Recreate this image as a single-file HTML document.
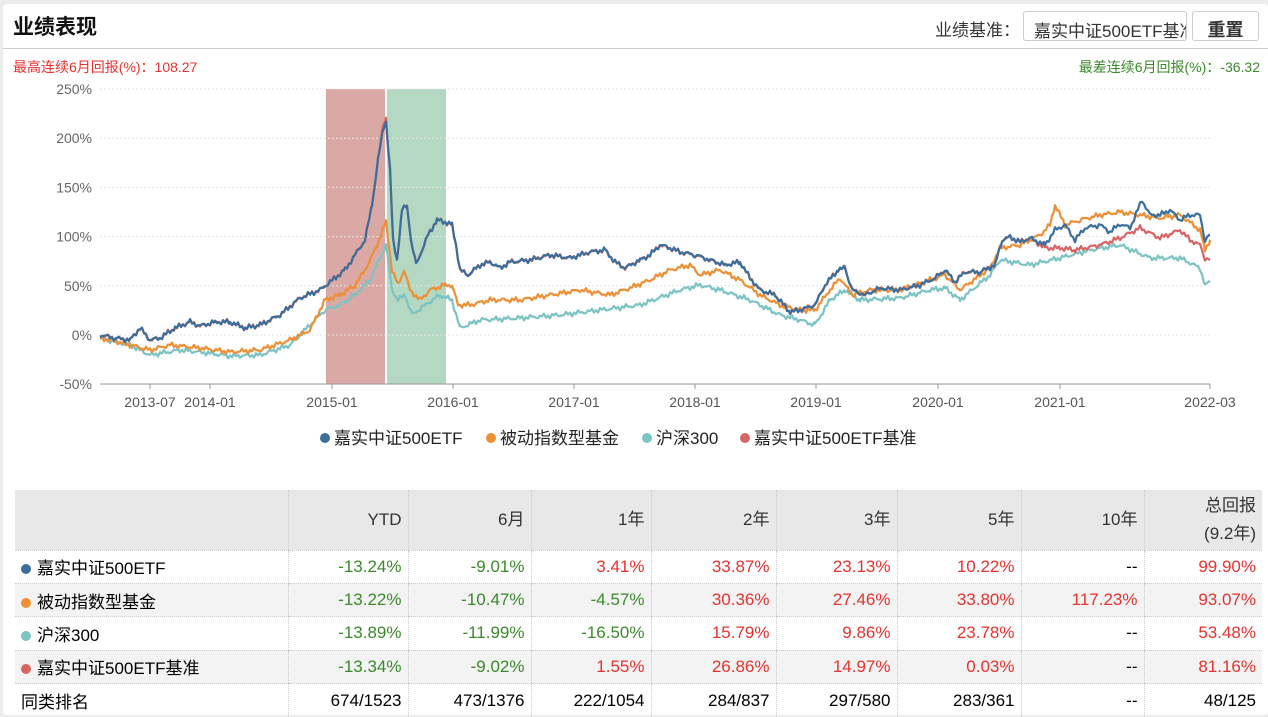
<!DOCTYPE html>
<html><head><meta charset="utf-8"><style>
*{margin:0;padding:0;box-sizing:border-box}
body{width:1268px;height:715px;background:#ececec;font-family:"Liberation Sans","Noto Sans CJK SC",sans-serif;position:relative;overflow:hidden}
#p{position:absolute;left:3px;top:4px;width:1265px;height:711px;background:#fff;border-radius:4px}
.a{position:absolute;white-space:nowrap}
table{position:absolute;left:15px;top:490px;border-collapse:collapse;font-size:17px}
td{height:33.4px;text-align:right;padding-right:6px;border-left:1px dotted #ccc;border-bottom:1px dotted #ccc}
td:first-child{text-align:left;padding-left:6px;border-left:none}
tr.h td{height:60px;background:#e8e8e8;color:#333;line-height:28px}
tr.g td{background:#f3f3f3}
.gr{color:#3a8a2a}.rd{color:#e8322d}
.d{display:inline-block;width:10px;height:10px;border-radius:50%;margin-right:6px;vertical-align:0}
</style></head><body><div id="p"></div>
<div class="a" style="left:13px;top:11px;font-size:21px;font-weight:bold;color:#111">业绩表现</div>
<div class="a" style="left:3px;top:48px;width:1265px;height:1px;background:#ccc"></div>
<div class="a" style="left:935px;top:16px;font-size:17px;color:#333">业绩基准：</div>
<div class="a" style="left:1023px;top:11px;width:164px;height:30px;border:1px solid #ccc;border-radius:3px;font-size:17px;color:#333;padding:5px 10px;overflow:hidden">嘉实中证500ETF基准</div>
<div class="a" style="left:1192px;top:11px;width:67px;height:30px;border:1px solid #ccc;border-radius:3px;font-size:18px;font-weight:bold;color:#333;padding-top:4px;text-align:center">重置</div>
<div class="a" style="left:13px;top:57px;font-size:14px;color:#e8322d">最高连续6月回报(%)：108.27</div>
<div class="a" style="right:8px;top:57px;font-size:14px;color:#3a8a2a">最差连续6月回报(%)：-36.32</div>
<svg class="a" style="left:0;top:0" width="1268" height="480" id="s"></svg>
<table>
<tr class="h"><td style="width:273px"></td><td style="width:120px">YTD</td><td style="width:123px">6月</td><td style="width:120px">1年</td><td style="width:125px">2年</td><td style="width:121px">3年</td><td style="width:124px">5年</td><td style="width:123px">10年</td><td style="width:118px">总回报<br>(9.2年)</td></tr>
<tr><td><span class="d" style="background:#3b6e9a"></span>嘉实中证500ETF</td><td class="gr">-13.24%</td><td class="gr">-9.01%</td><td class="rd">3.41%</td><td class="rd">33.87%</td><td class="rd">23.13%</td><td class="rd">10.22%</td><td>--</td><td class="rd">99.90%</td></tr>
<tr class="g"><td><span class="d" style="background:#ed8f35"></span>被动指数型基金</td><td class="gr">-13.22%</td><td class="gr">-10.47%</td><td class="gr">-4.57%</td><td class="rd">30.36%</td><td class="rd">27.46%</td><td class="rd">33.80%</td><td class="rd">117.23%</td><td class="rd">93.07%</td></tr>
<tr><td><span class="d" style="background:#7cc3c4"></span>沪深300</td><td class="gr">-13.89%</td><td class="gr">-11.99%</td><td class="gr">-16.50%</td><td class="rd">15.79%</td><td class="rd">9.86%</td><td class="rd">23.78%</td><td>--</td><td class="rd">53.48%</td></tr>
<tr class="g"><td><span class="d" style="background:#d76565"></span>嘉实中证500ETF基准</td><td class="gr">-13.34%</td><td class="gr">-9.02%</td><td class="rd">1.55%</td><td class="rd">26.86%</td><td class="rd">14.97%</td><td class="rd">0.03%</td><td>--</td><td class="rd">81.16%</td></tr>
<tr><td style="border-bottom:none">同类排名</td><td style="border-bottom:none">674/1523</td><td style="border-bottom:none">473/1376</td><td style="border-bottom:none">222/1054</td><td style="border-bottom:none">284/837</td><td style="border-bottom:none">297/580</td><td style="border-bottom:none">283/361</td><td style="border-bottom:none">--</td><td style="border-bottom:none">48/125</td></tr>
</table>
<script>
var s=document.getElementById('s'),h='';
h+='<rect x="326" y="89" width="59" height="295" fill="#dba9a5"/><rect x="387" y="89" width="59" height="295" fill="#b5d8c2"/>';
var labs=['250%','200%','150%','100%','50%','0%','-50%'];
for(var i=0;i<7;i++){var y=89+i*49.2;h+='<line x1="100" x2="1210" y1="'+y+'" y2="'+y+'" stroke="#e4e4e4" stroke-dasharray="2,2"/>';h+='<text x="92" y="'+(y+5)+'" text-anchor="end" font-size="14" fill="#666">'+labs[i]+'</text>';}
h+='<line x1="100" x2="1210" y1="384" y2="384" stroke="#999"/>';
var xl=[[150,'2013-07'],[210,'2014-01'],[332,'2015-01'],[453,'2016-01'],[574,'2017-01'],[695,'2018-01'],[816,'2019-01'],[938,'2020-01'],[1060,'2021-01'],[1210,'2022-03']];
xl.forEach(function(a){h+='<line x1="'+a[0]+'" x2="'+a[0]+'" y1="384" y2="389" stroke="#999"/><text x="'+a[0]+'" y="407" text-anchor="middle" font-size="14" fill="#555">'+a[1]+'</text>';});
function P(a){return a.match(/-?\d+/g).map(Number);}
function line(str,col,seed){var v=P(str),pts=[];for(var i=0;i<v.length-2;i+=2){var x0=v[i],y0=v[i+1],x1=v[i+2],y1=v[i+3];for(var x=x0;x<x1;x+=2){var t=(x-x0)/(x1-x0);var n=Math.sin(x*1.7+seed)*1.6+Math.sin(x*0.53+seed*2)*1.3;pts.push(x+','+(y0+(y1-y0)*t+n).toFixed(1));}}pts.push(v[v.length-2]+','+v[v.length-1]);h+='<polyline points="'+pts.join(' ')+'" fill="none" stroke="'+col+'" stroke-width="2.2" stroke-linejoin="round"/>';}
var blue='100,335 115,338 130,340 140,328 150,340 160,338 175,328 190,322 200,326 215,322 230,322 245,328 260,325 280,315 300,298 320,290 330,282 345,270 355,255 365,240 372,205 378,160 383,130 386,122 390,170 393,240 397,260 402,210 407,205 411,240 416,265 420,255 428,235 437,220 445,222 452,225 456,245 460,270 468,275 480,265 490,262 500,268 510,262 530,260 550,255 570,258 590,252 605,250 615,262 625,268 640,260 650,255 660,245 670,248 680,252 695,255 710,260 725,265 740,262 750,278 760,290 775,295 790,312 800,310 815,305 825,285 838,270 845,268 852,290 865,295 880,288 900,290 920,285 935,278 945,270 955,282 965,272 980,272 995,265 1002,240 1010,237 1020,242 1030,238 1045,245 1055,230 1065,225 1075,240 1085,228 1100,225 1110,232 1120,224 1130,228 1142,200 1150,215 1160,215 1170,210 1180,220 1190,215 1200,215 1205,240 1210,235';
var red=blue.replace('383,130 386,122','383,126 386,118').split(' ').filter(function(p){return +p.split(',')[0]<1040}).join(' ')+' 1045,248 1060,248 1075,250 1100,245 1120,238 1140,228 1160,238 1180,230 1190,240 1200,245 1205,258 1210,260';
var org='100,338 130,345 150,350 170,345 200,348 230,352 260,350 290,340 310,330 325,300 340,295 355,285 365,270 375,250 386,222 392,270 398,285 404,270 410,290 420,300 430,290 445,285 452,285 458,305 470,305 490,300 520,300 550,295 580,290 610,295 630,288 650,280 670,270 690,265 700,275 720,270 740,280 760,295 780,305 800,310 815,310 830,290 840,278 852,295 870,290 900,290 930,280 945,275 960,290 990,268 1000,248 1020,245 1040,235 1050,225 1055,205 1065,225 1080,220 1100,215 1120,212 1140,215 1160,218 1180,215 1200,230 1205,250 1210,240';
var cy='100,338 130,345 150,355 180,350 200,352 230,356 260,355 290,345 310,325 325,310 340,305 355,295 370,280 386,245 392,290 398,300 405,295 412,315 425,305 440,295 452,300 460,328 480,320 520,318 560,315 600,310 640,305 680,290 700,285 720,290 750,300 780,315 800,320 815,325 830,300 845,290 860,300 900,298 930,290 945,288 960,300 990,275 1000,260 1030,265 1060,258 1090,250 1120,245 1150,258 1180,258 1200,268 1205,285 1210,282';
line(cy,'#7cc3c4',3);line(org,'#ed8f35',1);line(red,'#d76565',2);line(blue,'#3b6e9a',2.3);
var lg=[[320,'#3b6e9a','嘉实中证500ETF'],[486,'#ed8f35','被动指数型基金'],[642,'#7cc3c4','沪深300'],[740,'#d76565','嘉实中证500ETF基准']];
lg.forEach(function(a){h+='<circle cx="'+(a[0]+5)+'" cy="438" r="5" fill="'+a[1]+'"/><text x="'+(a[0]+14)+'" y="444" font-size="17" fill="#222">'+a[2]+'</text>';});
s.innerHTML=h;
</script>
</body></html>
